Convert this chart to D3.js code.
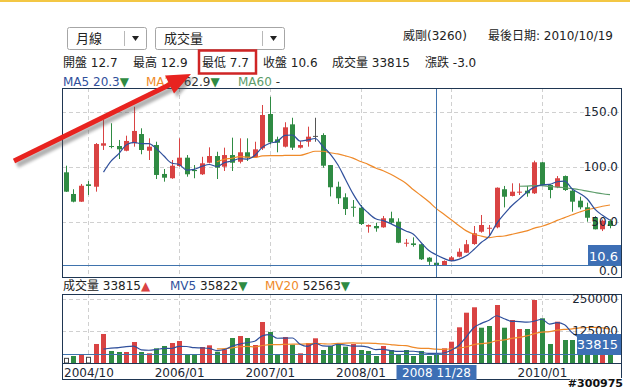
<!DOCTYPE html>
<meta charset="utf-8">
<style>
body { margin: 0; background: #fff; }
svg text { font-family: "DejaVu Sans", "Noto Sans CJK TC", sans-serif; }
.grid { stroke: #d0d0d0; stroke-dasharray: 4,3; shape-rendering: crispEdges; }
.frame { fill: none; stroke: #1f3652; shape-rendering: crispEdges; }
.axis text { font-size: 12px; fill: #1b2633; }
.axis path { display: none; }
.ma { fill: none; stroke-width: 1.2px; }
</style>
<svg width="630" height="390"></svg>
<script src="https://cdn.jsdelivr.net/npm/d3@7"></script>
<script>

// monthly candles, 2004/10 .. 2010/10
var months = [
  "2004/10","2004/11","2004/12",
  "2005/01","2005/02","2005/03","2005/04","2005/05","2005/06","2005/07","2005/08","2005/09","2005/10","2005/11","2005/12",
  "2006/01","2006/02","2006/03","2006/04","2006/05","2006/06","2006/07","2006/08","2006/09","2006/10","2006/11","2006/12",
  "2007/01","2007/02","2007/03","2007/04","2007/05","2007/06","2007/07","2007/08","2007/09","2007/10","2007/11","2007/12",
  "2008/01","2008/02","2008/03","2008/04","2008/05","2008/06","2008/07","2008/08","2008/09","2008/10","2008/11","2008/12",
  "2009/01","2009/02","2009/03","2009/04","2009/05","2009/06","2009/07","2009/08","2009/09","2009/10","2009/11","2009/12",
  "2010/01","2010/02","2010/03","2010/04","2010/05","2010/06","2010/07","2010/08","2010/09","2010/10"
];

var open = [94.9,75.2,68.2, 84.0,81.8,119.1,118.8,118.8,114.5,121.3,129.7,114.5,119.7,93.4,89.5,
  100.6,108.2,97.0,93.1,103.6,109.7,100.0,110.6,104.5,113.1,108.8,116.7,
  147.9,124.9,118.2,138.5,117.3,122.7,128.0,128.8,101.5,81.8,72.2,63.6,
  62.7,45.5,46.1,44.9,53.1,50.0,30.0,30.3,29.5,17.3,12.7,10.6,
  14.5,18.2,21.8,29.7,40.9,43.6,44.9,79.5,73.4,76.4,78.2,75.8,
  104.0,83.4,81.3,91.5,78.2,69.1,63.1,53.6,43.1,50.6];
var high = [100.9,79.5,84.3, 87.0,121.5,142.5,139.5,124.3,128.2,154.5,134.9,125.8,122.7,97.9,106.1,
  125.8,110.6,101.5,109.0,117.6,113.6,117.3,126.4,125.8,125.8,122.7,156.1,
  163.6,127.3,140.4,144.5,123.4,136.4,144.5,130.4,101.5,86.4,75.8,69.7,
  65.2,47.5,49.1,55.2,59.1,53.1,34.3,35.8,29.8,17.8,12.9,14.8,
  18.8,25.8,33.4,46.1,56.1,47.0,81.2,82.5,84.9,84.9,82.5,105.5,
  104.3,84.0,91.5,92.0,80.4,72.7,67.3,55.0,52.0,52.2];
var low = [77.0,67.6,68.0, 74.3,77.3,115.2,116.7,107.0,114.0,118.2,111.3,106.1,88.8,86.4,89.0,
  100.0,90.9,89.5,92.5,103.0,88.8,96.1,96.1,103.0,105.2,108.0,115.2,
  120.4,113.1,117.5,115.2,116.5,118.2,122.7,99.1,73.0,66.1,56.1,54.5,
  47.0,40.0,40.9,44.5,47.9,30.5,27.3,27.3,15.2,10.6,7.7,10.0,
  14.0,17.6,21.5,29.0,40.0,37.9,44.0,63.0,73.0,74.3,72.7,75.2,
  82.5,71.3,80.5,78.0,59.1,61.3,50.0,43.0,41.5,44.0];
var close = [77.3,68.2,82.7, 82.5,120.6,121.3,117.9,115.8,123.4,132.5,115.2,118.2,92.5,90.0,100.9,
  108.2,93.1,96.0,103.1,109.7,99.1,110.6,103.6,113.1,108.2,115.8,147.0,
  122.2,121.8,135.8,117.3,119.7,127.3,128.0,100.9,81.3,71.3,61.5,62.7,
  47.9,47.0,44.0,53.1,49.1,30.9,30.9,28.8,15.8,13.6,10.6,14.3,
  17.6,22.7,29.5,39.5,47.0,44.5,80.9,72.7,77.3,77.3,75.8,104.0,
  83.4,78.8,89.5,78.8,68.2,63.1,53.6,43.1,50.9,46.1];

var volume = [16000,25200,31900, 20100,72600,112000,45000,41000,41000,80400,41000,35900,55600,64700,76500,
  84400,31900,31900,60700,67400,42200,51600,96200,104000,96200,68600,159300,
  119900,31900,100200,69800,35900,76500,95000,48900,64700,72600,62000,72600,
  48900,45000,25200,64700,48900,31900,48900,25200,45000,25200,33815,55600,
  81600,138400,196000,217300,136800,143500,226300,136800,167200,131700,131700,246000,
  173900,72600,160500,88300,88300,90000,70000,60000,50000,40000];
// volume bar colour: 1 up, -1 down, 0 unchanged
var volDir = [0,-1,1, 0,1,1,-1,-1,1,1,-1,1,-1,-1,1,
  1,-1,-1,1,1,-1,1,-1,1,-1,1,1,
  -1,-1,1,-1,1,1,1,-1,-1,-1,-1,1,
  -1,-1,-1,1,-1,-1,-1,-1,-1,-1,-1,1,
  1,1,1,1,-1,-1,1,-1,1,1,-1,1,
  -1,-1,1,-1,-1,-1,-1,-1,1,-1];

var priceTicks = [0, 50, 100, 150];
var volTicks = [125000, 250000];
var gridMonths = ["2005/01","2006/01","2007/01","2008/01","2009/01","2010/01"];
// 2009/01 sits under the crosshair date tag, so it is not labelled
var labelMonths = ["2004/10","2006/01","2007/01","2008/01","2010/01"];
var focusMonth = "2008/11";

var svg = d3.select("svg");
var P = {left: 62, right: 621, top: 88, bottom: 277};
var V = {top: 294, bottom: 363, axis: 379};
var red = "#d94343", green = "#2f8b43", flat = "#555";
var blue = "#30509c", orange = "#ef8a2a", ma60c = "#5c9c6a", tag = "#3d6fb5";

var x = d3.scalePoint().domain(months).range([65.7, 610]);
var y = d3.scaleLinear().domain([0, 150]).range([276.7, 111.7]);
var yv = d3.scaleLinear().domain([0, 250000]).range([362.4, 299]);
var cx = function(m) { return Math.round(x(m)) + 0.5; };
var crisp = function(v) { return Math.round(v) + 0.5; };

var defs = svg.append("defs");
defs.append("clipPath").attr("id", "clipMain").append("rect")
    .attr("x", P.left).attr("y", P.top).attr("width", P.right - P.left).attr("height", P.bottom - P.top);
defs.append("clipPath").attr("id", "clipVol").append("rect")
    .attr("x", P.left).attr("y", V.top).attr("width", P.right - P.left).attr("height", V.bottom - V.top);
defs.append("filter").attr("id", "blur").append("feGaussianBlur").attr("stdDeviation", 1.6);

// top gold rule
svg.append("rect").attr("x", 0).attr("y", 0).attr("width", 630).attr("height", 2).attr("fill", "#f3c744");

// ---- header: dropdowns
function dropdown(x0, w, label) {
  var g = svg.append("g");
  g.append("rect").attr("x", x0 + 0.5).attr("y", 27.5).attr("width", w).attr("height", 22)
      .attr("rx", 2).attr("fill", "#fff").attr("stroke", "#a6a6a6");
  g.append("line").attr("x1", x0 + w - 21.5).attr("x2", x0 + w - 21.5).attr("y1", 31).attr("y2", 46)
      .attr("stroke", "#b8b8b8");
  g.append("path").attr("d", "M" + (x0 + w - 14) + ",36 l7,0 l-3.5,5 z").attr("fill", "#222");
  g.append("text").attr("x", x0 + 9).attr("y", 43).style("font-size", "13px").attr("fill", "#222").text(label);
}
dropdown(67, 79, "月線");
dropdown(155, 129, "成交量");

svg.append("text").attr("x", 403).attr("y", 40).style("font-size", "12px").attr("fill", "#222").text("威剛(3260)");
svg.append("text").attr("x", 613).attr("y", 40).attr("text-anchor", "end").style("font-size", "12px").attr("fill", "#222")
    .text("最後日期: 2010/10/19");

var quote = [["開盤 12.7", 63], ["最高 12.9", 133], ["最低 7.7", 202], ["收盤 10.6", 263], ["成交量 33815", 332], ["漲跌 -3.0", 425]];
quote.forEach(function(q) {
  svg.append("text").attr("x", q[1]).attr("y", 67).style("font-size", "12px").attr("fill", "#222").text(q[0]);
});

function legend(x0, y0, parts) {
  var t = svg.append("text").attr("x", x0).attr("y", y0).style("font-size", "12px");
  parts.forEach(function(p) { t.append("tspan").attr("fill", p[1]).text(p[0]); });
}
legend(63, 86, [["MA5 ", blue], ["20.3", blue], ["▼", green]]);
legend(146, 86, [["MA20 ", orange], ["62.9", "#333"], ["▼", green]]);
legend(238, 86, [["MA60 ", ma60c], ["-", "#333"]]);

legend(63, 290, [["成交量 ", "#222"], ["33815", "#222"], ["▲", red]]);
legend(170, 290, [["MV5 ", blue], ["35822", "#222"], ["▼", green]]);
legend(265, 290, [["MV20 ", orange], ["52563", "#222"], ["▼", green]]);

// ---- grids
var grid = svg.append("g");
[50, 100, 150].forEach(function(v) {
  grid.append("line").attr("class", "grid").attr("x1", P.left).attr("x2", P.right).attr("y1", crisp(y(v))).attr("y2", crisp(y(v)));
});
volTicks.forEach(function(v) {
  grid.append("line").attr("class", "grid").attr("x1", P.left).attr("x2", P.right).attr("y1", crisp(yv(v))).attr("y2", crisp(yv(v)));
});
gridMonths.forEach(function(m) {
  grid.append("line").attr("class", "grid").attr("x1", cx(m)).attr("x2", cx(m)).attr("y1", P.top).attr("y2", P.bottom);
  grid.append("line").attr("class", "grid").attr("x1", cx(m)).attr("x2", cx(m)).attr("y1", V.top).attr("y2", V.bottom);
});

// ---- candles
var candles = months.map(function(m, i) {
  return {m: m, o: open[i], h: high[i], l: low[i], c: close[i]};
});
var colorOf = function(d) { return d.c > d.o ? red : (d.c < d.o ? green : flat); };

var cg = svg.append("g").attr("clip-path", "url(#clipMain)");
cg.selectAll(".wick").data(candles).enter().append("line")
    .attr("x1", function(d) { return cx(d.m); }).attr("x2", function(d) { return cx(d.m); })
    .attr("y1", function(d) { return y(d.h); }).attr("y2", function(d) { return y(d.l); })
    .attr("stroke", colorOf);
cg.selectAll(".body").data(candles).enter().append("rect")
    .attr("x", function(d) { return cx(d.m) - 2.5; })
    .attr("width", 5)
    .attr("y", function(d) { return y(Math.max(d.o, d.c)); })
    .attr("height", function(d) { return Math.max(1, Math.abs(y(d.o) - y(d.c))); })
    .attr("fill", colorOf);

// moving averages (drawn from month n onward, as in the source chart)
function movingAvg(vals, n) {
  var out = [];
  for (var i = n; i < vals.length; i++) {
    out.push({m: months[i], v: d3.mean(vals.slice(i - n + 1, i + 1))});
  }
  return out;
}
var pLine = d3.line().curve(d3.curveMonotoneX).x(function(d) { return x(d.m); }).y(function(d) { return y(d.v); });
cg.append("path").attr("class", "ma").attr("stroke", ma60c).attr("d", pLine(movingAvg(close, 60)));
cg.append("path").attr("class", "ma").attr("stroke", orange).attr("d", pLine(movingAvg(close, 20)));
cg.append("path").attr("class", "ma").attr("stroke", blue).attr("d", pLine(movingAvg(close, 5)));

// ---- volume
var vg = svg.append("g").attr("clip-path", "url(#clipVol)");
vg.selectAll(".vol").data(months).enter().append("rect")
    .attr("x", function(m, i) { return cx(m) - (volDir[i] === 0 ? 2 : 2.5); })
    .attr("width", function(m, i) { return volDir[i] === 0 ? 4 : 5; })
    .attr("y", function(m, i) { return yv(volume[i]); })
    .attr("height", function(m, i) { return V.bottom - yv(volume[i]); })
    .attr("fill", function(m, i) { return volDir[i] > 0 ? red : (volDir[i] < 0 ? green : "#fff"); })
    .attr("stroke", function(m, i) { return volDir[i] === 0 ? "#444" : "none"; });
var vLine = d3.line().curve(d3.curveMonotoneX).x(function(d) { return x(d.m); }).y(function(d) { return yv(d.v); });
vg.append("path").attr("class", "ma").attr("stroke", orange).attr("d", vLine(movingAvg(volume, 20)));
vg.append("path").attr("class", "ma").attr("stroke", blue).attr("d", vLine(movingAvg(volume, 5)));

// ---- crosshair at the selected month
var fi = months.indexOf(focusMonth);
var ch = svg.append("g").attr("stroke", "#3f73ad").style("shape-rendering", "crispEdges");
ch.append("line").attr("x1", cx(focusMonth)).attr("x2", cx(focusMonth)).attr("y1", P.top).attr("y2", P.bottom);
ch.append("line").attr("x1", cx(focusMonth)).attr("x2", cx(focusMonth)).attr("y1", V.top).attr("y2", V.bottom);
ch.append("line").attr("x1", P.left).attr("x2", P.right).attr("y1", crisp(y(close[fi]))).attr("y2", crisp(y(close[fi])));
ch.append("line").attr("x1", P.left).attr("x2", P.right).attr("y1", crisp(yv(volume[fi]))).attr("y2", crisp(yv(volume[fi])));

// ---- frames
svg.append("rect").attr("class", "frame").attr("x", P.left + 0.5).attr("y", P.top + 0.5)
    .attr("width", P.right - P.left).attr("height", P.bottom - P.top);
svg.append("rect").attr("class", "frame").attr("x", P.left + 0.5).attr("y", V.top + 0.5)
    .attr("width", P.right - P.left).attr("height", V.axis - V.top);
svg.append("line").attr("class", "frame").attr("x1", P.left).attr("x2", P.right)
    .attr("y1", V.bottom + 0.5).attr("y2", V.bottom + 0.5);

// ---- axes (labels inside the right edge)
var ya = svg.append("g").attr("class", "axis").attr("transform", "translate(" + P.right + ",0)")
    .call(d3.axisLeft(y).tickValues(priceTicks).tickSize(0).tickPadding(3).tickFormat(d3.format(".1f")));
ya.selectAll(".tick").filter(function(d) { return d === 0; }).select("text").attr("dy", "-0.15em");
svg.append("g").attr("class", "axis").attr("transform", "translate(" + P.right + ",0)")
    .call(d3.axisLeft(yv).tickValues(volTicks).tickSize(0).tickPadding(3).tickFormat(d3.format("d")));

var xa = svg.append("g").attr("class", "axis").attr("transform", "translate(0," + V.bottom + ")")
    .call(d3.axisBottom(x).tickValues(labelMonths).tickSize(0).tickPadding(5));
xa.selectAll(".tick text").each(function() {
  var b = this.getBBox(), t = d3.select(this.parentNode).attr("transform");
  var tx = +t.match(/translate\(([-\d.]+)/)[1];
  if (tx + b.x < P.left + 2) d3.select(this).attr("x", P.left + 2 - tx - b.x);
});

// ---- value tags at the crosshair
function tagBox(x0, y0, w, h, label) {
  svg.append("rect").attr("x", x0).attr("y", y0).attr("width", w).attr("height", h).attr("fill", tag);
  return svg.append("text").attr("fill", "#fff").style("font-size", "13px").text(label);
}
tagBox(588, crisp(y(close[fi])) - 20.5, 33, 20, d3.format(".1f")(close[fi]))
    .attr("x", 618).attr("y", crisp(y(close[fi])) - 5).attr("text-anchor", "end");
tagBox(577, crisp(yv(volume[fi])) - 20.5, 44, 21, volume[fi])
    .attr("x", 618).attr("y", crisp(yv(volume[fi])) - 6).attr("text-anchor", "end");
tagBox(cx(focusMonth) - 40, 365, 80, 15, "2008 11/28")
    .attr("x", cx(focusMonth)).attr("y", 377).attr("text-anchor", "middle").style("font-size", "12px");

// ---- watermark
svg.append("text").attr("x", 623).attr("y", 387).attr("text-anchor", "end")
    .style("font-size", "11px").style("font-weight", "bold")
    .attr("fill", "#111").attr("stroke", "#fff").attr("stroke-width", 2).style("paint-order", "stroke")
    .text("#300975");

// ---- red call-out (annotation)
svg.append("rect").attr("x", 199).attr("y", 50.5).attr("width", 57).attr("height", 23)
    .attr("fill", "none").attr("stroke", "#cf2525").attr("stroke-width", 2.5);
var ar = svg.append("g");
var sh = ar.append("g").attr("transform", "translate(3,4)").attr("filter", "url(#blur)").attr("opacity", 0.45);
sh.append("line").attr("x1", 14).attr("y1", 161).attr("x2", 170).attr("y2", 84.5).attr("stroke", "#555").attr("stroke-width", 6);
sh.append("path").attr("d", "M191,74 L174,93.6 L165,75.6 Z").attr("fill", "#555");
ar.append("line").attr("x1", 14).attr("y1", 161).attr("x2", 170).attr("y2", 84.5).attr("stroke", "#e8231f").attr("stroke-width", 5);
ar.append("path").attr("d", "M191,74 L174,93.6 L165,75.6 Z").attr("fill", "#e8231f");

</script>
